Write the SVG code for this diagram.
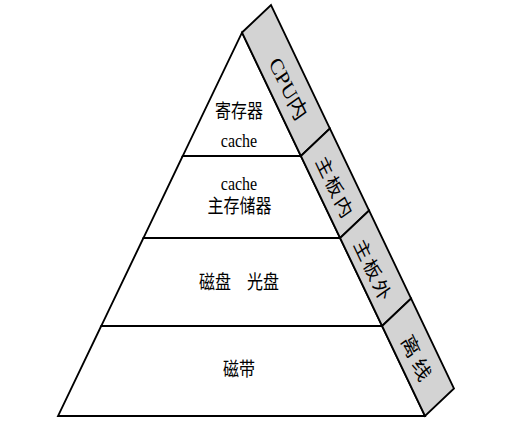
<svg xmlns="http://www.w3.org/2000/svg" width="510" height="428" viewBox="0 0 510 428">
<style>
.bg{fill:#ffffff}
.layer{fill:#ffffff;stroke:#000000;stroke-width:1.8;stroke-linejoin:miter}
.seg{fill:#d3d3d3;stroke:#000000;stroke-width:1.8;stroke-linejoin:miter}
.t{font-family:"Liberation Serif","Noto Sans CJK SC",serif;font-size:16px;fill:#000000;text-anchor:middle}
.b{font-family:"Liberation Serif","Noto Sans CJK SC",serif;font-size:17px;fill:#000000;text-anchor:middle;dominant-baseline:central}
</style>
<rect class="bg" x="0" y="0" width="510" height="428"/>
<g id="layer-registers">
<polygon class="layer" points="242,32.5 300.9,156 182.7,156"/>
<text class="t" transform="translate(239,117.5) scale(1,1.22)">寄存器</text>
<text class="t" transform="translate(239,147) scale(1,1.22)">cache</text>
</g>
<g id="layer-main-memory">
<polygon class="layer" points="182.7,156 300.9,156 340.1,238 143.4,238"/>
<text class="t" transform="translate(239,190) scale(1,1.22)">cache</text>
<text class="t" transform="translate(239.5,212.5) scale(1,1.22)">主存储器</text>
</g>
<g id="layer-disks">
<polygon class="layer" points="143.4,238 340.1,238 382.1,326 101.2,326"/>
<text class="t" transform="translate(239,289) scale(1,1.22)">磁盘　光盘</text>
</g>
<g id="layer-tape">
<polygon class="layer" points="101.2,326 382.1,326 425,416 58,416"/>
<text class="t" transform="translate(239,375.5) scale(1,1.22)">磁带</text>
</g>
<g id="band-cpu">
<polygon class="seg" points="242,32.5 271,5 329.9,128.5 300.9,156"/>
<text class="b" transform="translate(288,89) scale(1,1.22) rotate(60)" style="font-size:19px">CPU内</text>
</g>
<g id="band-board-in">
<polygon class="seg" points="300.9,156 329.9,128.5 369.1,210.5 340.1,238"/>
<text class="b" x="1" transform="translate(334,187) scale(1,1.22) rotate(60)" style="letter-spacing:2px">主板内</text>
</g>
<g id="band-board-out">
<polygon class="seg" points="340.1,238 369.1,210.5 411.1,298.5 382.1,326"/>
<text class="b" x="1" transform="translate(372,270) scale(1,1.22) rotate(60)" style="letter-spacing:2px">主板外</text>
</g>
<g id="band-offline">
<polygon class="seg" points="382.1,326 411.1,298.5 454,388.5 425,416"/>
<text class="b" x="2" transform="translate(416,358) scale(1,1.22) rotate(60)" style="font-size:18px;letter-spacing:4px">离线</text>
</g>
<g id="connectors"></g>
</svg>
